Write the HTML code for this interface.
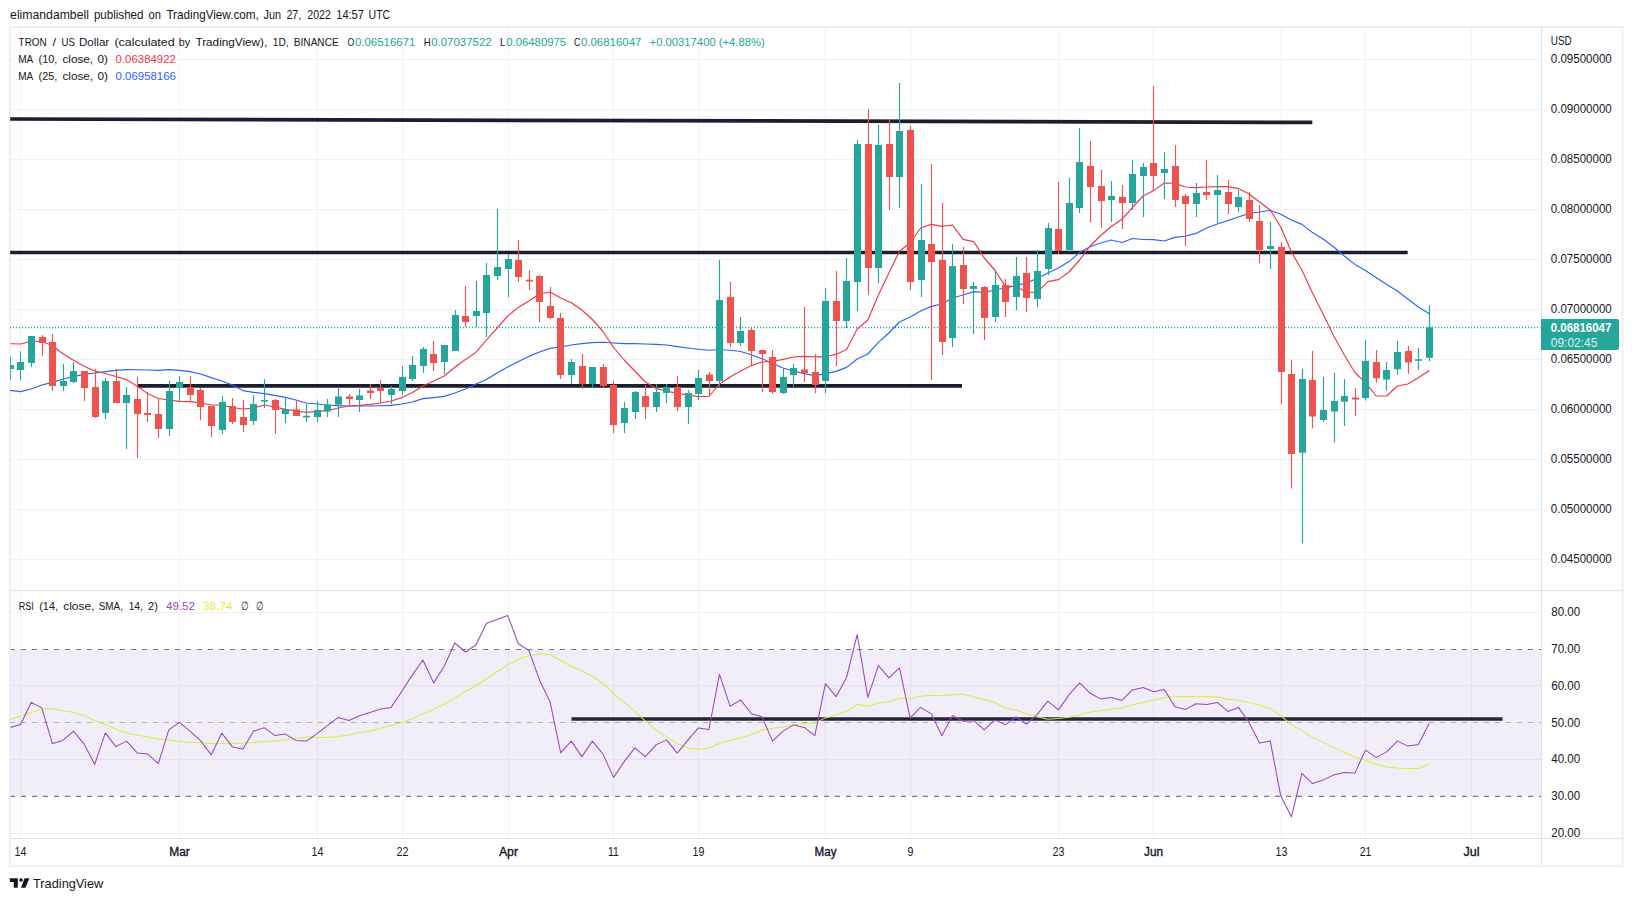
<!DOCTYPE html>
<html lang="en"><head><meta charset="utf-8"><title>TRON / US Dollar - TradingView</title>
<style>html,body{margin:0;padding:0;background:#fff;}body{width:1633px;height:901px;overflow:hidden;position:relative;font-family:"Liberation Sans", Arial, sans-serif;}svg{position:absolute;left:0;top:0;display:block;}text{font-family:"Liberation Sans", Arial, sans-serif;}</style></head><body>
<svg width="1633" height="901" viewBox="0 0 1633 901">
<defs><clipPath id="cm"><rect x="10.2" y="28" width="1530.4" height="562"/></clipPath><clipPath id="cr"><rect x="10.6" y="591" width="1530.4" height="247"/></clipPath></defs>
<text x="10.1" y="19" font-size="13" fill="#131722" textLength="78.8" lengthAdjust="spacingAndGlyphs" >elimandambell</text>
<text x="93.9" y="19" font-size="13" fill="#131722" textLength="49.6" lengthAdjust="spacingAndGlyphs" >published</text>
<text x="148.6" y="19" font-size="13" fill="#131722" textLength="12.4" lengthAdjust="spacingAndGlyphs" >on</text>
<text x="166.4" y="19" font-size="13" fill="#131722" textLength="92.4" lengthAdjust="spacingAndGlyphs" >TradingView.com,</text>
<text x="263.5" y="19" font-size="13" fill="#131722" textLength="17.5" lengthAdjust="spacingAndGlyphs" >Jun</text>
<text x="286.4" y="19" font-size="13" fill="#131722" textLength="14.8" lengthAdjust="spacingAndGlyphs" >27,</text>
<text x="307.3" y="19" font-size="13" fill="#131722" textLength="23.6" lengthAdjust="spacingAndGlyphs" >2022</text>
<text x="336.3" y="19" font-size="13" fill="#131722" textLength="27.6" lengthAdjust="spacingAndGlyphs" >14:57</text>
<text x="368.6" y="19" font-size="13" fill="#131722" textLength="21.6" lengthAdjust="spacingAndGlyphs" >UTC</text>
<rect x="10" y="27" width="1612.5" height="839" fill="#fff" stroke="#edeff5" stroke-width="2"/>
<path d="M20.5 28V838M179.5 28V838M317.5 28V838M402.5 28V838M508.5 28V838M613.5 28V838M698.5 28V838M825.5 28V838M910.5 28V838M1058.5 28V838M1153.5 28V838M1281.5 28V838M1365.5 28V838M1471.5 28V838M11 59.5H1541M11 109.5H1541M11 159.5H1541M11 209.5H1541M11 259.5H1541M11 309.5H1541M11 359.5H1541M11 409.5H1541M11 459.5H1541M11 509.5H1541M11 559.5H1541M11 612.5H1541M11 685.5H1541M11 759.5H1541M11 833.5H1541" stroke="#f0f1f3" stroke-width="1" fill="none"/>
<path d="M11 590.5H1622M11 838.5H1622M1541.5 28V865" stroke="#dfe0e5" stroke-width="1" fill="none"/>
<g clip-path="url(#cr)">
<path d="M571.5 719H1502.5" stroke="#1b1f2b" stroke-width="3.7" fill="none"/>
<rect x="10.6" y="649.5" width="1530.9" height="146.7" fill="#7e57c2" fill-opacity="0.1"/>
<path d="M9.9 649.5H1541.5M9.9 796.4H1541.5" stroke="#787b86" stroke-width="1.2" stroke-dasharray="5.2 5.8" fill="none"/>
<path d="M9.9 722.5H1541.5" stroke="#787b86" stroke-opacity="0.55" stroke-width="1.2" stroke-dasharray="5.2 5.8" fill="none"/>
<polyline points="10.0,719.4 20.6,716.2 31.2,712.4 41.8,708.9 52.4,708.7 62.9,710.4 73.5,712.4 84.1,715.4 94.7,720.7 105.3,724.4 115.9,729.1 126.5,732.9 137.1,734.9 147.7,736.9 158.3,739.1 168.8,739.9 179.4,741.4 190.0,742.6 200.6,742.4 211.2,743.4 221.8,743.6 232.4,743.6 243.0,743.1 253.6,742.6 264.2,741.6 274.7,741.1 285.3,739.9 295.9,738.6 306.5,737.1 317.1,737.4 327.7,737.6 338.3,736.6 348.9,735.1 359.5,732.4 370.0,730.9 380.6,728.2 391.2,725.4 401.8,722.4 412.4,718.7 423.0,713.7 433.6,709.4 444.2,704.2 454.8,697.9 465.4,691.7 475.9,685.7 486.5,678.7 497.1,671.7 507.7,664.9 518.3,659.5 528.9,655.7 539.5,653.7 550.1,654.5 560.7,660.5 571.3,666.2 581.8,670.9 592.4,676.2 603.0,683.7 613.6,693.7 624.2,702.4 634.8,711.2 645.4,721.2 656.0,729.9 666.6,736.9 677.2,743.6 687.7,747.9 698.3,749.6 708.9,748.1 719.5,743.6 730.1,740.4 740.7,737.4 751.3,734.4 761.9,729.9 772.5,728.2 783.0,726.9 793.6,724.9 804.2,723.4 814.8,722.9 825.4,717.9 836.0,714.9 846.6,711.2 857.2,704.4 867.8,706.2 878.4,703.0 888.9,701.7 899.5,698.4 910.1,698.2 920.7,696.2 931.3,695.2 941.9,695.7 952.5,694.7 963.1,693.9 973.7,696.9 984.3,699.4 994.8,702.4 1005.4,708.2 1016.0,709.9 1026.6,713.7 1037.2,716.7 1047.8,719.2 1058.4,718.4 1069.0,717.2 1079.6,714.9 1090.1,711.9 1100.7,710.7 1111.3,709.2 1121.9,707.7 1132.5,704.7 1143.1,702.4 1153.7,699.9 1164.3,697.7 1174.9,696.7 1185.5,696.4 1196.0,696.7 1206.6,696.4 1217.2,697.2 1227.8,699.2 1238.4,700.2 1249.0,702.4 1259.6,705.2 1270.2,708.2 1280.8,715.7 1291.4,724.9 1301.9,730.6 1312.5,737.4 1323.1,742.4 1333.7,747.4 1344.3,752.4 1354.9,756.9 1365.5,760.6 1376.1,764.1 1386.7,767.1 1397.3,768.1 1407.8,768.4 1418.4,768.6 1429.0,763.9" fill="none" stroke="#d2f03c" stroke-width="1.05" stroke-linejoin="round" stroke-linecap="round"/>
<polyline points="10.0,727.4 20.6,724.4 31.2,702.4 41.8,707.9 52.4,743.6 62.9,740.4 73.5,731.1 84.1,744.1 94.7,764.4 105.3,732.9 115.9,746.6 126.5,741.1 137.1,752.9 147.7,754.1 158.3,763.6 168.8,729.9 179.4,722.4 190.0,731.1 200.6,740.6 211.2,754.9 221.8,733.1 232.4,746.9 243.0,749.1 253.6,731.1 264.2,727.7 274.7,735.4 285.3,734.1 295.9,740.4 306.5,741.1 317.1,733.6 327.7,725.4 338.3,717.4 348.9,720.4 359.5,715.7 370.0,712.4 380.6,708.9 391.2,707.4 401.8,691.2 412.4,674.9 423.0,660.0 433.6,682.9 444.2,666.2 454.8,643.0 465.4,652.0 475.9,645.0 486.5,623.2 497.1,619.5 507.7,615.5 518.3,643.7 528.9,650.5 539.5,679.9 550.1,701.9 560.7,752.9 571.3,741.1 581.8,756.6 592.4,741.1 603.0,754.1 613.6,777.4 624.2,761.6 634.8,747.9 645.4,756.6 656.0,744.9 666.6,739.9 677.2,753.1 687.7,740.4 698.3,727.9 708.9,729.4 719.5,674.4 730.1,706.2 740.7,699.9 751.3,713.7 761.9,716.7 772.5,741.1 783.0,731.1 793.6,724.9 804.2,727.4 814.8,735.6 825.4,683.7 836.0,696.7 846.6,677.4 857.2,634.5 867.8,697.4 878.4,665.7 888.9,677.9 899.5,667.9 910.1,717.9 920.7,707.4 931.3,713.9 941.9,735.4 952.5,715.4 963.1,721.2 973.7,720.7 984.3,729.9 994.8,719.9 1005.4,724.9 1016.0,716.9 1026.6,724.2 1037.2,714.4 1047.8,701.2 1058.4,709.9 1069.0,694.9 1079.6,682.9 1090.1,693.2 1100.7,698.9 1111.3,697.4 1121.9,700.4 1132.5,689.9 1143.1,687.4 1153.7,691.7 1164.3,689.4 1174.9,706.7 1185.5,709.4 1196.0,703.7 1206.6,704.4 1217.2,702.4 1227.8,711.4 1238.4,707.4 1249.0,722.4 1259.6,742.9 1270.2,740.9 1280.8,796.1 1291.4,816.8 1301.9,773.4 1312.5,783.6 1323.1,780.1 1333.7,774.9 1344.3,772.4 1354.9,773.1 1365.5,750.1 1376.1,757.4 1386.7,751.9 1397.3,741.1 1407.8,746.1 1418.4,744.4 1429.0,723.7" fill="none" stroke="#9b45c3" stroke-width="1.05" stroke-linejoin="round" stroke-linecap="round"/>
</g>
<g clip-path="url(#cm)">
<path d="M10 327.5H1541.5" stroke="#26a69a" stroke-width="1.3" stroke-dasharray="1.15 1.85" fill="none"/>
<path d="M10 119L1312.3 122.4M10 252.5H1407.7M138 385.8H962" stroke="#1b1f2b" stroke-width="3.7" fill="none"/>
<polyline points="10.0,390.4 20.6,391.6 31.2,389.0 41.8,385.0 52.4,382.4 62.9,379.0 73.5,376.6 84.1,374.4 94.7,373.0 105.3,371.6 115.9,370.4 126.5,369.6 137.1,369.8 147.7,370.0 158.3,370.4 168.8,369.6 179.4,370.4 190.0,371.6 200.6,374.0 211.2,377.6 221.8,381.0 232.4,385.0 243.0,390.6 253.6,392.4 264.2,393.6 274.7,395.4 285.3,397.4 295.9,400.0 306.5,403.0 317.1,404.0 327.7,405.0 338.3,405.6 348.9,406.0 359.5,406.0 370.0,406.0 380.6,405.8 391.2,405.4 401.8,404.0 412.4,402.0 423.0,398.6 433.6,397.6 444.2,396.4 454.8,393.0 465.4,389.0 475.9,384.0 486.5,379.5 497.1,373.0 507.7,367.0 518.3,361.6 528.9,356.4 539.5,352.0 550.1,348.4 560.7,347.0 571.3,345.0 581.8,343.6 592.4,342.6 603.0,342.2 613.6,343.0 624.2,343.6 634.8,343.6 645.4,344.0 656.0,344.4 666.6,345.0 677.2,346.6 687.7,348.0 698.3,349.2 708.9,350.3 719.5,349.5 730.1,350.2 740.7,351.5 751.3,354.8 761.9,358.7 772.5,363.2 783.0,368.0 793.6,371.0 804.2,373.6 814.8,375.6 825.4,373.6 836.0,371.4 846.6,367.4 857.2,359.0 867.8,354.0 878.4,342.4 888.9,333.0 899.5,322.0 910.1,317.0 920.7,311.0 931.3,306.4 941.9,304.0 952.5,298.0 963.1,295.0 973.7,291.6 984.3,292.4 994.8,290.0 1005.4,288.0 1016.0,285.6 1026.6,283.0 1037.2,278.4 1047.8,273.0 1058.4,268.0 1069.0,261.6 1079.6,252.6 1090.1,246.8 1100.7,243.0 1111.3,240.0 1121.9,242.5 1132.5,238.5 1143.1,239.5 1153.7,239.6 1164.3,241.0 1174.9,237.4 1185.5,236.0 1196.0,233.4 1206.6,228.0 1217.2,224.0 1227.8,220.6 1238.4,217.0 1249.0,213.4 1259.6,212.0 1270.2,210.2 1280.8,214.3 1291.4,220.0 1301.9,224.4 1312.5,232.6 1323.1,239.0 1333.7,247.0 1344.3,256.0 1354.9,264.4 1365.5,270.4 1376.1,277.6 1386.7,284.4 1397.3,291.0 1407.8,299.0 1418.4,307.0 1429.0,313.4" fill="none" stroke="#2962ff" stroke-width="1.15" stroke-linejoin="round" stroke-linecap="round"/>
<polyline points="10.0,343.7 20.6,344.0 31.2,341.5 41.8,341.2 52.4,345.7 62.9,353.8 73.5,360.3 84.1,366.3 94.7,371.0 105.3,373.5 115.9,376.5 126.5,379.6 137.1,386.2 147.7,393.6 158.3,398.5 168.8,400.0 179.4,401.4 190.0,401.6 200.6,403.0 211.2,405.0 221.8,405.0 232.4,407.5 243.0,409.0 253.6,408.0 264.2,405.0 274.7,407.0 285.3,409.4 295.9,411.0 306.5,412.4 317.1,411.4 327.7,410.6 338.3,408.0 348.9,406.0 359.5,405.4 370.0,404.4 380.6,403.0 391.2,401.0 401.8,397.6 412.4,392.6 423.0,386.0 433.6,381.0 444.2,376.0 454.8,367.3 465.4,359.5 475.9,352.4 486.5,340.0 497.1,328.0 507.7,316.0 518.3,307.4 528.9,301.0 539.5,294.0 550.1,292.0 560.7,298.0 571.3,302.7 581.8,310.0 592.4,319.5 603.0,331.5 613.6,347.5 624.2,360.0 634.8,371.0 645.4,382.0 656.0,388.4 666.6,391.0 677.2,393.4 687.7,395.0 698.3,396.6 708.9,396.5 719.5,384.0 730.1,377.0 740.7,371.0 751.3,365.6 761.9,362.0 772.5,361.5 783.0,359.4 793.6,357.0 804.2,356.4 814.8,356.8 825.4,356.8 836.0,354.4 846.6,349.6 857.2,329.0 867.8,320.0 878.4,295.0 888.9,273.0 899.5,251.0 910.1,243.0 920.7,228.0 931.3,224.4 941.9,226.4 952.5,225.0 963.1,239.4 973.7,241.6 984.3,258.0 994.8,270.0 1005.4,286.4 1016.0,286.4 1026.6,292.0 1037.2,292.4 1047.8,281.6 1058.4,279.6 1069.0,272.0 1079.6,260.0 1090.1,246.0 1100.7,235.5 1111.3,226.5 1121.9,219.3 1132.5,207.5 1143.1,196.0 1153.7,190.6 1164.3,183.0 1174.9,183.4 1185.5,187.0 1196.0,187.6 1206.6,187.0 1217.2,186.6 1227.8,186.6 1238.4,188.6 1249.0,194.0 1259.6,202.0 1270.2,210.0 1280.8,227.0 1291.4,252.0 1301.9,270.0 1312.5,293.0 1323.1,314.0 1333.7,336.0 1344.3,355.0 1354.9,372.5 1365.5,382.7 1376.1,396.0 1386.7,396.0 1397.3,386.0 1407.8,384.0 1418.4,377.8 1429.0,370.7" fill="none" stroke="#f23645" stroke-width="1.15" stroke-linejoin="round" stroke-linecap="round"/>
<path d="M10.5 356.4V380.0M20.5 351.4V380.0M31.5 336.0V367.0M63.5 364.0V391.0M73.5 362.0V383.0M105.5 378.0V419.0M126.5 387.0V449.0M169.5 381.0V436.0M179.5 376.0V402.0M222.5 396.0V434.0M253.5 395.0V425.0M264.5 379.0V408.0M285.5 397.0V423.0M306.5 404.0V422.0M317.5 401.0V422.0M327.5 399.0V417.0M338.5 387.0V417.0M359.5 389.0V412.0M391.5 386.0V404.0M402.5 366.0V395.0M412.5 356.0V381.0M423.5 347.0V373.0M444.5 345.0V374.0M455.5 310.0V351.0M476.5 281.0V327.0M486.5 263.0V337.0M497.5 209.0V280.0M508.5 254.0V297.0M571.5 359.0V384.0M592.5 367.0V388.0M624.5 402.0V433.0M635.5 391.0V419.0M656.5 384.0V412.0M666.5 384.0V403.0M688.5 390.0V424.0M698.5 370.0V400.0M719.5 260.0V387.0M740.5 317.0V346.0M783.5 368.0V394.0M793.5 364.0V387.0M825.5 288.0V393.0M846.5 258.0V328.0M857.5 140.0V311.0M878.5 125.0V283.0M899.5 83.0V208.0M921.5 184.0V297.0M952.5 244.0V347.0M973.5 282.0V334.0M995.5 270.0V322.0M1016.5 257.0V310.0M1037.5 250.0V307.0M1048.5 223.0V275.0M1069.5 178.0V252.0M1079.5 128.0V213.0M1111.5 181.0V222.0M1132.5 160.0V210.0M1143.5 163.0V217.0M1164.5 152.0V199.0M1196.5 183.0V217.0M1217.5 175.0V223.0M1238.5 190.0V212.0M1270.5 222.0V269.0M1302.5 369.0V543.4M1323.5 377.0V421.8M1334.5 373.0V442.5M1344.5 379.0V426.0M1365.5 340.0V400.5M1386.5 362.0V390.5M1397.5 341.0V374.7M1418.5 348.0V369.8M1429.5 305.5V361.3" stroke="#26a69a" stroke-width="1.15" fill="none"/>
<path d="M42.5 335.0V356.0M52.5 334.0V391.0M84.5 371.0V401.0M95.5 369.0V418.0M116.5 369.0V403.0M137.5 377.0V458.0M147.5 392.0V422.0M158.5 399.0V438.0M190.5 376.0V401.0M200.5 388.0V420.0M211.5 406.0V437.0M232.5 398.0V424.0M243.5 400.0V432.0M275.5 399.0V434.0M296.5 400.0V416.0M349.5 394.0V406.0M370.5 384.0V399.0M380.5 380.0V403.0M433.5 341.0V371.0M465.5 286.0V327.0M518.5 240.0V282.0M529.5 270.0V290.0M539.5 275.0V322.0M550.5 287.0V319.0M560.5 313.0V379.0M582.5 354.0V389.0M603.5 364.0V388.0M613.5 381.0V433.0M645.5 385.0V419.0M677.5 376.0V411.0M709.5 372.0V396.0M730.5 282.0V347.0M751.5 328.0V365.0M762.5 350.0V392.0M772.5 350.0V394.0M804.5 307.0V382.0M815.5 354.0V393.0M836.5 271.0V366.0M868.5 109.0V295.0M889.5 119.0V210.0M910.5 126.0V290.0M931.5 164.0V380.0M942.5 203.0V355.0M963.5 247.0V304.0M984.5 286.0V340.0M1005.5 279.0V317.0M1026.5 257.0V312.0M1058.5 182.0V254.0M1090.5 141.0V222.0M1101.5 170.0V228.0M1122.5 185.0V229.0M1153.5 86.0V191.0M1175.5 145.0V207.0M1185.5 194.0V246.0M1206.5 160.0V200.0M1228.5 180.0V214.0M1249.5 192.0V222.0M1259.5 205.0V263.0M1281.5 242.0V404.0M1291.5 360.0V488.4M1312.5 351.0V428.6M1355.5 388.0V415.7M1376.5 350.0V382.7M1408.5 346.0V373.7" stroke="#ef5350" stroke-width="1.15" fill="none"/>
<path d="M7 365.0h7V369.0h-7zM17 362.0h7V370.0h-7zM28 336.0h7V363.0h-7zM60 381.0h7V386.0h-7zM70 371.0h7V382.0h-7zM102 381.0h7V413.0h-7zM123 395.0h7V403.0h-7zM166 391.0h7V429.0h-7zM176 382.0h7V388.0h-7zM219 402.0h7V430.0h-7zM250 404.0h7V421.0h-7zM261 400.0h7V401.6h-7zM282 409.0h7V414.0h-7zM303 415.8h7V417.4h-7zM314 410.0h7V417.0h-7zM324 404.4h7V411.4h-7zM335 396.4h7V404.4h-7zM356 395.4h7V400.0h-7zM388 389.0h7V395.0h-7zM399 377.0h7V391.0h-7zM409 365.0h7V379.0h-7zM420 349.0h7V366.0h-7zM441 345.0h7V362.0h-7zM452 315.0h7V351.0h-7zM473 311.0h7V316.0h-7zM483 275.0h7V313.0h-7zM494 267.0h7V276.0h-7zM505 259.0h7V269.0h-7zM568 362.0h7V375.0h-7zM589 367.0h7V384.0h-7zM621 408.0h7V423.0h-7zM632 392.0h7V412.0h-7zM653 392.0h7V407.0h-7zM663 387.0h7V393.0h-7zM685 393.0h7V407.0h-7zM695 378.0h7V394.0h-7zM716 300.0h7V381.0h-7zM737 331.0h7V343.0h-7zM780 377.0h7V393.0h-7zM790 368.0h7V375.0h-7zM822 301.0h7V381.0h-7zM843 281.0h7V321.0h-7zM854 144.0h7V282.0h-7zM875 145.0h7V268.0h-7zM896 131.0h7V177.0h-7zM918 240.0h7V280.0h-7zM949 266.0h7V338.0h-7zM970 286.0h7V289.0h-7zM992 285.0h7V317.0h-7zM1013 276.0h7V297.0h-7zM1034 271.0h7V299.0h-7zM1045 228.0h7V269.0h-7zM1066 203.0h7V250.0h-7zM1076 162.0h7V208.0h-7zM1108 196.0h7V200.0h-7zM1129 174.0h7V203.0h-7zM1140 167.0h7V176.0h-7zM1161 169.0h7V173.0h-7zM1193 193.0h7V204.0h-7zM1214 190.0h7V195.0h-7zM1235 197.0h7V207.0h-7zM1267 246.0h7V249.0h-7zM1299 379.0h7V452.8h-7zM1320 410.0h7V420.0h-7zM1331 401.0h7V411.5h-7zM1341 396.0h7V401.8h-7zM1362 361.0h7V397.9h-7zM1383 370.0h7V379.6h-7zM1394 352.0h7V369.3h-7zM1415 359.2h7V360.8h-7zM1426 327.2h7V357.7h-7z" fill="#26a69a"/>
<path d="M39 337.0h7V343.0h-7zM49 342.0h7V386.0h-7zM81 371.0h7V388.0h-7zM92 387.0h7V417.0h-7zM113 381.0h7V403.0h-7zM134 399.0h7V414.0h-7zM144 413.0h7V415.0h-7zM155 414.0h7V429.0h-7zM187 387.0h7V395.0h-7zM197 390.0h7V407.0h-7zM208 406.0h7V426.0h-7zM229 406.0h7V422.0h-7zM240 417.0h7V425.0h-7zM272 400.0h7V410.0h-7zM293 409.4h7V416.0h-7zM346 396.4h7V399.0h-7zM367 390.4h7V393.0h-7zM377 388.0h7V391.0h-7zM430 354.0h7V363.0h-7zM462 316.0h7V322.0h-7zM515 260.0h7V277.0h-7zM526 279.8h7V281.4h-7zM536 276.0h7V302.0h-7zM547 306.0h7V318.0h-7zM557 318.0h7V375.0h-7zM579 366.0h7V384.0h-7zM600 367.0h7V386.0h-7zM610 385.0h7V425.0h-7zM642 396.0h7V407.0h-7zM674 387.0h7V407.0h-7zM706 374.4h7V381.0h-7zM727 297.0h7V343.0h-7zM748 330.0h7V351.0h-7zM759 350.0h7V354.0h-7zM769 357.0h7V392.0h-7zM801 369.4h7V373.0h-7zM812 372.0h7V385.0h-7zM833 301.0h7V321.0h-7zM865 144.0h7V268.0h-7zM886 144.0h7V177.0h-7zM907 130.0h7V282.0h-7zM928 244.0h7V262.0h-7zM939 260.0h7V342.0h-7zM960 265.0h7V289.0h-7zM981 287.0h7V318.0h-7zM1002 285.0h7V302.0h-7zM1023 273.0h7V298.0h-7zM1055 229.0h7V251.0h-7zM1087 166.0h7V187.0h-7zM1098 186.0h7V201.0h-7zM1119 197.0h7V203.0h-7zM1150 163.0h7V176.0h-7zM1172 166.0h7V200.0h-7zM1182 196.0h7V204.0h-7zM1203 192.0h7V195.0h-7zM1225 192.0h7V204.0h-7zM1246 200.0h7V219.0h-7zM1256 221.0h7V250.0h-7zM1278 247.0h7V372.0h-7zM1288 374.0h7V454.0h-7zM1309 380.0h7V416.4h-7zM1352 397.4h7V399.6h-7zM1373 362.0h7V378.3h-7zM1405 351.0h7V362.5h-7z" fill="#ef5350"/>
</g>
<text x="18.6" y="46" font-size="11.5" fill="#131722" textLength="28.1" lengthAdjust="spacingAndGlyphs" >TRON</text>
<text x="52.5" y="46" font-size="11.5" fill="#131722" textLength="3.6" lengthAdjust="spacingAndGlyphs" >/</text>
<text x="61.5" y="46" font-size="11.5" fill="#131722" textLength="13.4" lengthAdjust="spacingAndGlyphs" >US</text>
<text x="79.0" y="46" font-size="11.5" fill="#131722" textLength="30.2" lengthAdjust="spacingAndGlyphs" >Dollar</text>
<text x="114.4" y="46" font-size="11.5" fill="#131722" textLength="60.3" lengthAdjust="spacingAndGlyphs" >(calculated</text>
<text x="178.8" y="46" font-size="11.5" fill="#131722" textLength="11.4" lengthAdjust="spacingAndGlyphs" >by</text>
<text x="195.4" y="46" font-size="11.5" fill="#131722" textLength="71.9" lengthAdjust="spacingAndGlyphs" >TradingView),</text>
<text x="272.8" y="46" font-size="11.5" fill="#131722" textLength="15.8" lengthAdjust="spacingAndGlyphs" >1D,</text>
<text x="293.8" y="46" font-size="11.5" fill="#131722" textLength="44.9" lengthAdjust="spacingAndGlyphs" >BINANCE</text>
<text x="347.4" y="46" font-size="11.5" fill="#131722" textLength="6.8" lengthAdjust="spacingAndGlyphs" >O</text>
<text x="354.9" y="46" font-size="11.5" fill="#26a69a" textLength="60.5" lengthAdjust="spacingAndGlyphs" >0.06516671</text>
<text x="423.7" y="46" font-size="11.5" fill="#131722" textLength="6.9" lengthAdjust="spacingAndGlyphs" >H</text>
<text x="431.2" y="46" font-size="11.5" fill="#26a69a" textLength="60.5" lengthAdjust="spacingAndGlyphs" >0.07037522</text>
<text x="500.0" y="46" font-size="11.5" fill="#131722" textLength="5.5" lengthAdjust="spacingAndGlyphs" >L</text>
<text x="506.2" y="46" font-size="11.5" fill="#26a69a" textLength="60.0" lengthAdjust="spacingAndGlyphs" >0.06480975</text>
<text x="573.9" y="46" font-size="11.5" fill="#131722" textLength="6.3" lengthAdjust="spacingAndGlyphs" >C</text>
<text x="580.9" y="46" font-size="11.5" fill="#26a69a" textLength="60.5" lengthAdjust="spacingAndGlyphs" >0.06816047</text>
<text x="649.6" y="46" font-size="11.5" fill="#26a69a" textLength="115.2" lengthAdjust="spacingAndGlyphs" >+0.00317400 (+4.88%)</text>
<text x="18.2" y="63" font-size="11.5" fill="#131722" textLength="15.1" lengthAdjust="spacingAndGlyphs" >MA</text>
<text x="38.6" y="63" font-size="11.5" fill="#131722" textLength="18.7" lengthAdjust="spacingAndGlyphs" >(10,</text>
<text x="62.5" y="63" font-size="11.5" fill="#131722" textLength="30.6" lengthAdjust="spacingAndGlyphs" >close,</text>
<text x="97.4" y="63" font-size="11.5" fill="#131722" textLength="10.4" lengthAdjust="spacingAndGlyphs" >0)</text>
<text x="115.6" y="63" font-size="11.5" fill="#f23645" textLength="60.3" lengthAdjust="spacingAndGlyphs" >0.06384922</text>
<text x="18.2" y="80" font-size="11.5" fill="#131722" textLength="15.1" lengthAdjust="spacingAndGlyphs" >MA</text>
<text x="38.6" y="80" font-size="11.5" fill="#131722" textLength="18.7" lengthAdjust="spacingAndGlyphs" >(25,</text>
<text x="62.5" y="80" font-size="11.5" fill="#131722" textLength="30.6" lengthAdjust="spacingAndGlyphs" >close,</text>
<text x="97.4" y="80" font-size="11.5" fill="#131722" textLength="10.4" lengthAdjust="spacingAndGlyphs" >0)</text>
<text x="115.6" y="80" font-size="11.5" fill="#2962ff" textLength="60.3" lengthAdjust="spacingAndGlyphs" >0.06958166</text>
<text x="18.7" y="610" font-size="11.5" fill="#131722" textLength="15.0" lengthAdjust="spacingAndGlyphs" >RSI</text>
<text x="39.2" y="610" font-size="11.5" fill="#131722" textLength="18.8" lengthAdjust="spacingAndGlyphs" >(14,</text>
<text x="63.2" y="610" font-size="11.5" fill="#131722" textLength="31.2" lengthAdjust="spacingAndGlyphs" >close,</text>
<text x="98.7" y="610" font-size="11.5" fill="#131722" textLength="24.2" lengthAdjust="spacingAndGlyphs" >SMA,</text>
<text x="128.7" y="610" font-size="11.5" fill="#131722" textLength="14.2" lengthAdjust="spacingAndGlyphs" >14,</text>
<text x="148.1" y="610" font-size="11.5" fill="#131722" textLength="9.8" lengthAdjust="spacingAndGlyphs" >2)</text>
<text x="166" y="610" font-size="11.5" fill="#9b45c3" textLength="29" lengthAdjust="spacingAndGlyphs" >49.52</text>
<text x="203" y="610" font-size="11.5" fill="#cdf53a" textLength="29.2" lengthAdjust="spacingAndGlyphs" >38.74</text>
<text x="240.6" y="610" font-size="11.5" fill="#131722" textLength="7.2" lengthAdjust="spacingAndGlyphs" >∅</text>
<text x="255.7" y="610" font-size="11.5" fill="#131722" textLength="7.2" lengthAdjust="spacingAndGlyphs" >∅</text>
<text x="1550.8" y="45" font-size="12" fill="#131722" textLength="21" lengthAdjust="spacingAndGlyphs" >USD</text>
<text x="1550.8" y="63.1" font-size="12" fill="#131722" textLength="61" lengthAdjust="spacingAndGlyphs" >0.09500000</text>
<text x="1550.8" y="113.1" font-size="12" fill="#131722" textLength="61" lengthAdjust="spacingAndGlyphs" >0.09000000</text>
<text x="1550.8" y="163.1" font-size="12" fill="#131722" textLength="61" lengthAdjust="spacingAndGlyphs" >0.08500000</text>
<text x="1550.8" y="213.1" font-size="12" fill="#131722" textLength="61" lengthAdjust="spacingAndGlyphs" >0.08000000</text>
<text x="1550.8" y="263.1" font-size="12" fill="#131722" textLength="61" lengthAdjust="spacingAndGlyphs" >0.07500000</text>
<text x="1550.8" y="313.1" font-size="12" fill="#131722" textLength="61" lengthAdjust="spacingAndGlyphs" >0.07000000</text>
<text x="1550.8" y="363.1" font-size="12" fill="#131722" textLength="61" lengthAdjust="spacingAndGlyphs" >0.06500000</text>
<text x="1550.8" y="413.1" font-size="12" fill="#131722" textLength="61" lengthAdjust="spacingAndGlyphs" >0.06000000</text>
<text x="1550.8" y="463.1" font-size="12" fill="#131722" textLength="61" lengthAdjust="spacingAndGlyphs" >0.05500000</text>
<text x="1550.8" y="513.1" font-size="12" fill="#131722" textLength="61" lengthAdjust="spacingAndGlyphs" >0.05000000</text>
<text x="1550.8" y="563.1" font-size="12" fill="#131722" textLength="61" lengthAdjust="spacingAndGlyphs" >0.04500000</text>
<path d="M1541 319h76a2 2 0 0 1 2 2v27a2 2 0 0 1 -2 2h-76z" fill="#26a69a"/>
<text x="1550.8" y="331.9" font-size="12" fill="#fff" textLength="60.5" lengthAdjust="spacingAndGlyphs" font-weight="bold" >0.06816047</text>
<text x="1550.8" y="346.7" font-size="12" fill="#dff3f0" textLength="46.5" lengthAdjust="spacingAndGlyphs" >09:02:45</text>
<text x="1551.2" y="616.0" font-size="12" fill="#131722" textLength="29" lengthAdjust="spacingAndGlyphs" >80.00</text>
<text x="1551.2" y="652.7" font-size="12" fill="#131722" textLength="29" lengthAdjust="spacingAndGlyphs" >70.00</text>
<text x="1551.2" y="690.0" font-size="12" fill="#131722" textLength="29" lengthAdjust="spacingAndGlyphs" >60.00</text>
<text x="1551.2" y="726.7" font-size="12" fill="#131722" textLength="29" lengthAdjust="spacingAndGlyphs" >50.00</text>
<text x="1551.2" y="762.8" font-size="12" fill="#131722" textLength="29" lengthAdjust="spacingAndGlyphs" >40.00</text>
<text x="1551.2" y="800.4" font-size="12" fill="#131722" textLength="29" lengthAdjust="spacingAndGlyphs" >30.00</text>
<text x="1551.2" y="837.2" font-size="12" fill="#131722" textLength="29" lengthAdjust="spacingAndGlyphs" >20.00</text>
<text x="14.6" y="856.1" font-size="12" fill="#131722" textLength="11.8" lengthAdjust="spacingAndGlyphs" >14</text>
<text x="169.25" y="856.1" font-size="12" fill="#131722" textLength="20.5" lengthAdjust="spacingAndGlyphs" stroke="#131722" stroke-width="0.35">Mar</text>
<text x="311.6" y="856.1" font-size="12" fill="#131722" textLength="11.8" lengthAdjust="spacingAndGlyphs" >14</text>
<text x="396.5" y="856.1" font-size="12" fill="#131722" textLength="12" lengthAdjust="spacingAndGlyphs" >22</text>
<text x="498.9" y="856.1" font-size="12" fill="#131722" textLength="19.2" lengthAdjust="spacingAndGlyphs" stroke="#131722" stroke-width="0.35">Apr</text>
<text x="608.1" y="856.1" font-size="12" fill="#131722" textLength="10.8" lengthAdjust="spacingAndGlyphs" >11</text>
<text x="692.6" y="856.1" font-size="12" fill="#131722" textLength="11.8" lengthAdjust="spacingAndGlyphs" >19</text>
<text x="814.5" y="856.1" font-size="12" fill="#131722" textLength="22" lengthAdjust="spacingAndGlyphs" stroke="#131722" stroke-width="0.35">May</text>
<text x="907.55" y="856.1" font-size="12" fill="#131722" textLength="5.9" lengthAdjust="spacingAndGlyphs" >9</text>
<text x="1052.5" y="856.1" font-size="12" fill="#131722" textLength="12" lengthAdjust="spacingAndGlyphs" >23</text>
<text x="1144.0" y="856.1" font-size="12" fill="#131722" textLength="19" lengthAdjust="spacingAndGlyphs" stroke="#131722" stroke-width="0.35">Jun</text>
<text x="1275.6" y="856.1" font-size="12" fill="#131722" textLength="11.8" lengthAdjust="spacingAndGlyphs" >13</text>
<text x="1359.7" y="856.1" font-size="12" fill="#131722" textLength="11.6" lengthAdjust="spacingAndGlyphs" >21</text>
<text x="1463.5" y="856.1" font-size="12" fill="#131722" textLength="16" lengthAdjust="spacingAndGlyphs" stroke="#131722" stroke-width="0.35">Jul</text>
<g fill="#131722"><path d="M9.85 878.2H17.8V887.85H13.76V882.1H9.85z"/><circle cx="21.05" cy="879.9" r="1.75"/><path d="M24.5 878.2H29.4L25.5 887.85H21z"/></g>
<text x="33" y="887.9" font-size="12.6" fill="#131722" textLength="70.3" lengthAdjust="spacingAndGlyphs" >TradingView</text>
</svg></body></html>
